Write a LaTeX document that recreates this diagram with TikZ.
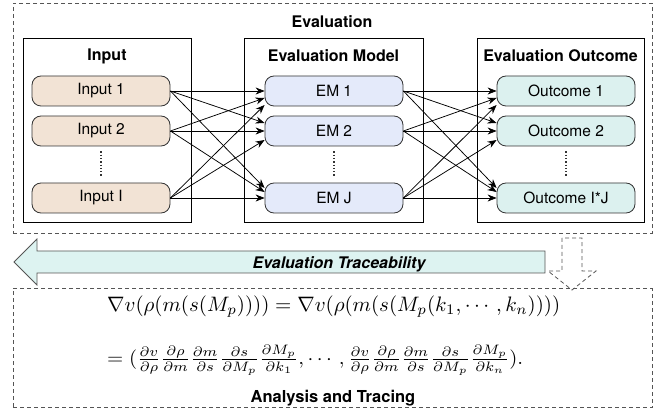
\documentclass[tikz,border=0pt]{standalone}
\usepackage{amsmath}
\usepackage{graphicx}
\usepackage{fontspec}
\setmainfont{TeX Gyre Heros}
\usetikzlibrary{arrows.meta}
\definecolor{inputfill}{HTML}{F2E3D5}
\definecolor{emfill}{HTML}{E4EAFA}
\definecolor{outfill}{HTML}{DCF1EF}
\definecolor{arrowfill}{HTML}{DDF3F1}
\definecolor{edgegray}{HTML}{333333}
\definecolor{dashgray}{HTML}{555555}
\begin{document}
\begin{tikzpicture}[x=1pt,y=-1pt,
  colbox/.style={draw=black, line width=0.8pt, fill=white, minimum height=184pt},
  item/.style={draw=edgegray, rounded corners=9pt, minimum width=138pt, minimum height=30pt,
    line width=0.8pt, font=\fontsize{15.5}{18}\selectfont, inner sep=0pt},
  coltitle/.style={font=\bfseries\fontsize{16}{19}\selectfont},
  conn/.style={-{Stealth[length=9pt,width=7pt]}, line width=0.75pt},
  dashbox/.style={draw=dashgray, dash pattern=on 4pt off 3pt, line width=0.8pt},
  vdotline/.style={line width=1.3pt, dash pattern=on 1.3pt off 2pt, draw=edgegray}]
\useasboundingbox (0,0) rectangle (670,414);
% outer evaluation box
\node[dashbox, draw, minimum width=639pt, minimum height=230pt, inner sep=0pt] (evalbox) at (332.5,118) {};
\node[coltitle] (evaltitle) at (332,21.5) {Evaluation};
% column boxes
\node[colbox, minimum width=168pt] (colin) at (107,130) {};
\node[colbox, minimum width=179pt] (colem) at (333.5,130) {};
\node[colbox, minimum width=167pt] (colout) at (560.5,130) {};
\node[coltitle] (tin) at (107,56) {Input};
\node[coltitle] (tem) at (333.5,56) {Evaluation Model};
\node[coltitle] (tout) at (560.5,56) {Evaluation Outcome};
% items
\node[item, fill=inputfill] (in1) at (101,91) {Input 1};
\node[item, fill=inputfill] (in2) at (101,131) {Input 2};
\node[item, fill=inputfill] (in3) at (101,198) {Input I};
\node[item, fill=emfill] (em1) at (334,91) {EM 1};
\node[item, fill=emfill] (em2) at (334,131) {EM 2};
\node[item, fill=emfill] (em3) at (334,198) {EM J};
\node[item, fill=outfill] (out1) at (566,91) {Outcome 1};
\node[item, fill=outfill] (out2) at (566,131) {Outcome 2};
\node[item, fill=outfill] (out3) at (566,198) {Outcome I*J};
% vertical dots
\coordinate (d1a) at ([yshift=-5pt]in2.south);
\coordinate (d1b) at ([yshift=5pt]in3.north);
\draw[vdotline] (d1a) -- (d1b);
\coordinate (d2a) at ([yshift=-5pt]em2.south);
\coordinate (d2b) at ([yshift=5pt]em3.north);
\draw[vdotline] (d2a) -- (d2b);
\coordinate (d3a) at ([yshift=-5pt]out2.south);
\coordinate (d3b) at ([yshift=5pt]out3.north);
\draw[vdotline] (d3a) -- (d3b);
% connectors
\foreach \s/\t/\o in {1/1/0, 2/1/-7, 3/1/-14, 1/2/8, 2/2/0, 3/2/-9, 1/3/10, 2/3/6, 3/3/0}{
  \draw[conn] (in\s.east) -- ([yshift=\o pt]em\t.west);
  \draw[conn] (em\s.east) -- ([yshift=\o pt]out\t.west);
}
% traceability arrow
\draw[draw=dashgray, line width=0.8pt, fill=arrowfill]
  (14,262) -- (37,239) -- (37,251) -- (545,251) -- (545,273) -- (37,273) -- (37,285) -- cycle;
\node[font=\bfseries\itshape\fontsize{16}{19}\selectfont] (trace) at (339,264.5) {Evaluation Traceability};
% dashed down arrow
\draw[dashgray, dash pattern=on 4pt off 3pt, line width=0.8pt]
  (562,238) -- (562,271) -- (548,271) -- (572,290) -- (596,271) -- (582,271) -- (582,238) -- cycle;
% analysis box
\node[dashbox, draw, minimum width=639pt, minimum height=119pt, inner sep=0pt] (anabox) at (332.5,348) {};
\node[anchor=west, inner sep=0pt] (eqa) at (107,307)
 {\resizebox{453pt}{!}{$\nabla v(\rho(m(s(M_p)))) = \nabla v(\rho(m(s(M_p(k_1,\cdots,k_n))))$}};
\node[anchor=west, inner sep=0pt] (eqb) at (107,360)
 {\resizebox*{416pt}{30pt}{$= (\tfrac{\partial v}{\partial\rho}\tfrac{\partial\rho}{\partial m}\tfrac{\partial m}{\partial s}\tfrac{\partial s}{\partial M_p}\tfrac{\partial M_p}{\partial k_1},\cdots,
  \tfrac{\partial v}{\partial\rho}\tfrac{\partial\rho}{\partial m}\tfrac{\partial m}{\partial s}\tfrac{\partial s}{\partial M_p}\tfrac{\partial M_p}{\partial k_n}).$}};
\node[font=\bfseries\fontsize{16.5}{19}\selectfont] (anatitle) at (333,398) {Analysis and Tracing};
\end{tikzpicture}
\end{document}
